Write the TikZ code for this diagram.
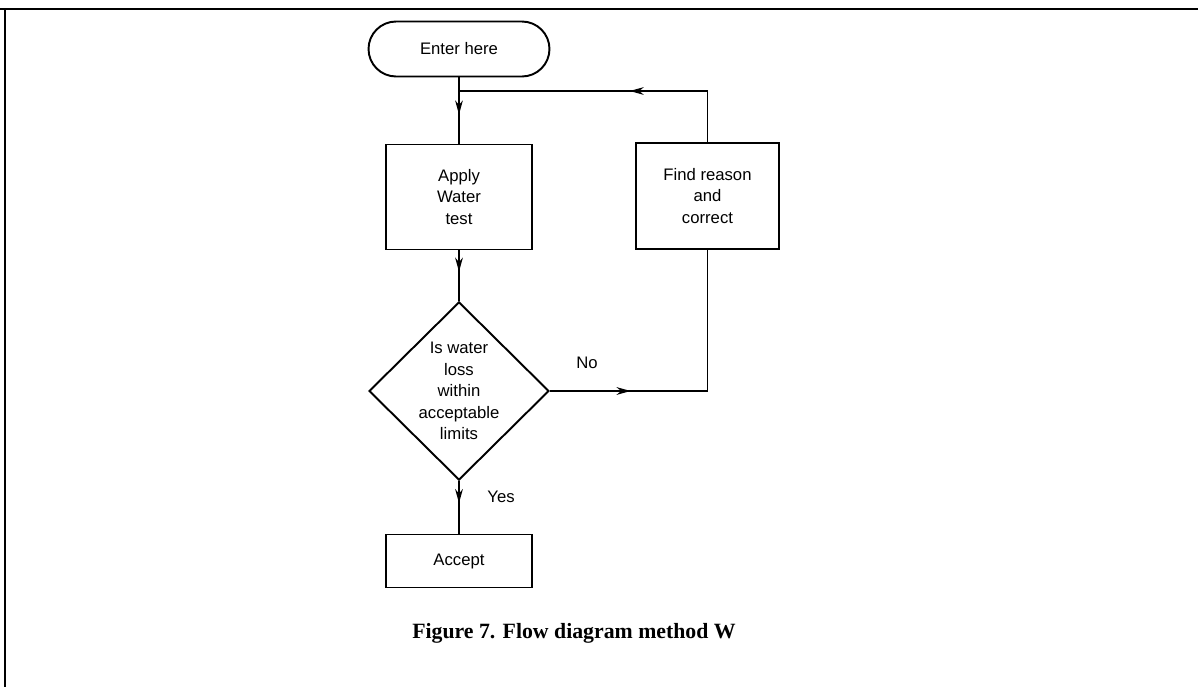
\documentclass[tikz,border=0pt]{standalone}
\usepackage{fontspec}
\setmainfont{Liberation Serif}
\setsansfont{Liberation Sans}
\usetikzlibrary{shapes.geometric, arrows.meta, decorations.markings}

\tikzset{
  box/.style={draw, line width=1.1pt, minimum width=2.92cm, font=\sffamily\fontsize{9.5}{12.2}\selectfont, align=center, inner sep=2pt},
  terminal/.style={box, rounded corners=0.55cm, minimum width=3.62cm, minimum height=1.1cm},
  decision/.style={box, diamond, shape aspect=1, minimum width=3.6cm, minimum height=3.52cm, inner sep=0pt},
  flow/.style={line width=0.85pt},
  midarrow/.style={postaction={decorate, decoration={markings,
      mark=at position #1 with {\arrow{Stealth[length=8pt,width=4.4pt]}}}}},
  label/.style={font=\sffamily\fontsize{9.5}{12}\selectfont}
}

\begin{document}
\begin{tikzpicture}[x=0.02cm, y=-0.02cm]
\useasboundingbox (0,0) rectangle (1198,687);

% Rahmen
\draw[line width=1.1pt] (0,9) -- (1198,9);
\draw[line width=0.8pt] (5,9) -- (5,687);

% Knoten
\node[terminal] (enter) at (459,49) {Enter here};
\node[box, minimum height=2.1cm] (apply) at (459,197) {Apply\\Water\\test};
\node[box, minimum width=2.86cm, minimum height=2.12cm] (find) at (707.5,196) {Find reason\\and\\correct};
\node[decision] (check) at (459,391) {Is water\\loss\\within\\acceptable\\limits};
\node[box, minimum height=1.06cm] (accept) at (459,561) {Accept};
\coordinate (loopjoin) at (459,91);

% Verbindungen
\draw[flow, midarrow=0.56] (enter) -- (apply);
\draw[flow, midarrow=0.42] (apply) -- (check);
\draw[flow, midarrow=0.43] (find.north) |- (loopjoin);
\draw[flow, midarrow=0.27] (check.east) -| (find.south);
\draw[flow, midarrow=0.42] (check.south) -- (accept.north);

% Beschriftungen
\node[label] (no) at (587,363) {No};
\node[label] (yes) at (501,497) {Yes};
\node[font=\fontsize{12.4}{15}\selectfont\bfseries] (caption) at (574,633) {Figure 7. Flow diagram method W};
\end{tikzpicture}
\end{document}
